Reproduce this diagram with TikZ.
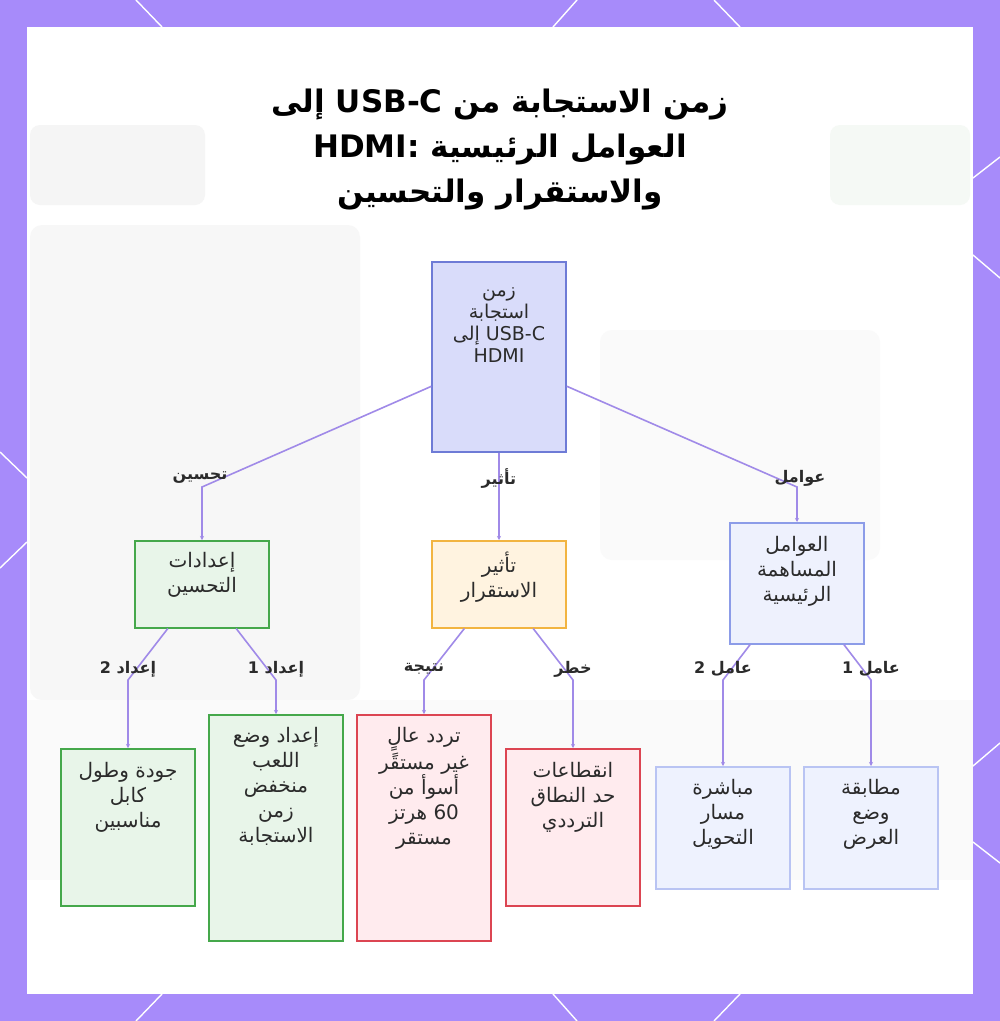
\documentclass[tikz,border=0pt]{standalone}
\usepackage{fontspec}
\setmainfont{DejaVu Sans}
\newfontfamily\arabicfont[Script=Arabic]{DejaVu Sans}
\newfontfamily\latinfont{DejaVu Sans}
\TeXXeTstate=1
\usetikzlibrary{arrows.meta}
\newcommand{\rtl}[1]{\beginR #1\endR}
\newcommand{\ltr}[1]{\beginL{\latinfont #1}\endL{}}

\definecolor{framepurple}{HTML}{A78BFA}
\definecolor{linkpurple}{HTML}{A08AE8}
\definecolor{textdark}{HTML}{2B2B2B}
\definecolor{rootfill}{HTML}{D9DCFA}
\definecolor{rootline}{HTML}{6E7BD6}
\definecolor{greenfill}{HTML}{E8F5E9}
\definecolor{greenline}{HTML}{45A84B}
\definecolor{orangefill}{HTML}{FFF3E0}
\definecolor{orangeline}{HTML}{F2B441}
\definecolor{factfill}{HTML}{EEF1FD}
\definecolor{factline}{HTML}{8C9CE8}
\definecolor{leaffill}{HTML}{EEF2FE}
\definecolor{leafline}{HTML}{B9C4F3}
\definecolor{redfill}{HTML}{FFEBEE}
\definecolor{redline}{HTML}{DC4552}

\tikzset{
  box/.style={draw, line width=1.5pt, anchor=north, minimum width=134pt, inner sep=0pt},
  rootbox/.style={box, fill=rootfill, draw=rootline},
  greenbox/.style={box, fill=greenfill, draw=greenline},
  orangebox/.style={box, fill=orangefill, draw=orangeline},
  factbox/.style={box, fill=factfill, draw=factline},
  leafbox/.style={box, fill=leaffill, draw=leafline},
  redbox/.style={box, fill=redfill, draw=redline},
  boxtext/.style={anchor=north, align=center, inner sep=0pt, text=textdark,
    font=\arabicfont\fontsize{20}{25}\selectfont},
  edgelabel/.style={inner sep=1pt, text=textdark,
    font=\arabicfont\bfseries\fontsize{16}{18}\selectfont},
  link/.style={draw=linkpurple, line width=1.6pt, -{Stealth[length=4pt,width=4pt]}},
  cornerline/.style={draw=white, line width=1.4pt},
}

\begin{document}
\begin{tikzpicture}[x=1pt,y=-1pt]
  \useasboundingbox (0,0) rectangle (1000,1021);

  % frame and panel
  \fill[framepurple] (0,0) rectangle (1000,1021);
  \fill[white] (27,27) rectangle (973,994);
  \fill[black!3, rounded corners=12pt] (30,225) rectangle (360,700);
  \fill[black!2, rounded corners=12pt] (600,330) rectangle (880,560);
  \fill[black!4, rounded corners=10pt] (30,125) rectangle (205,205);
  \fill[green!40!black!4, rounded corners=10pt] (830,125) rectangle (970,205);
  \fill[black!2] (27,700) rectangle (973,880);

  \draw[cornerline] (136,0) -- (162,27);
  \draw[cornerline] (577,0) -- (553,27);
  \draw[cornerline] (714,0) -- (740,27);
  \draw[cornerline] (162,994) -- (136,1021);
  \draw[cornerline] (553,994) -- (577,1021);
  \draw[cornerline] (740,994) -- (714,1021);
  \draw[cornerline] (0,452) -- (27,478);
  \draw[cornerline] (27,542) -- (0,568);
  \draw[cornerline] (973,178) -- (1000,157);
  \draw[cornerline] (973,255) -- (1000,278);
  \draw[cornerline] (973,766) -- (1000,743);
  \draw[cornerline] (973,842) -- (1000,863);

  % title
  \node[align=center, text=black, font=\arabicfont\bfseries\fontsize{31}{45}\selectfont] (title) at (500,150)
    {\rtl{زمن الاستجابة من \ltr{\bfseries USB-C} إلى}\\\rtl{العوامل الرئيسية \ltr{\bfseries HDMI:}}\\\rtl{والاستقرار والتحسين}};

  % boxes
  \node[rootbox, minimum height=190pt] (root) at (499,261) {};
  \node[boxtext, font=\arabicfont\fontsize{19}{22}\selectfont] (roott) at ([yshift=-26pt]root.north)
    {\rtl{زمن}\\\rtl{استجابة}\\\rtl{\ltr{USB-C} إلى}\\\ltr{HDMI}};

  \node[greenbox, minimum height=87pt] (setup) at (202,540) {};
  \node[boxtext] (setupt) at ([yshift=-12pt]setup.north) {\rtl{إعدادات}\\\rtl{التحسين}};

  \node[orangebox, minimum height=87pt] (stab) at (499,540) {};
  \node[boxtext] (stabt) at ([yshift=-12pt]stab.north) {\rtl{تأثير}\\\rtl{الاستقرار}};

  \node[factbox, minimum height=121pt] (factors) at (797,522) {};
  \node[boxtext] (factorst) at ([yshift=-14pt]factors.north) {\rtl{العوامل}\\\rtl{المساهمة}\\\rtl{الرئيسية}};

  \node[greenbox, minimum height=157pt] (cable) at (128,748) {};
  \node[boxtext] (cablet) at ([yshift=-14pt]cable.north) {\rtl{جودة وطول}\\\rtl{كابل}\\\rtl{مناسبين}};

  \node[greenbox, minimum height=226pt] (gamemode) at (276,714) {};
  \node[boxtext] (gamemodet) at ([yshift=-13pt]gamemode.north) {\rtl{إعداد وضع}\\\rtl{اللعب}\\\rtl{منخفض}\\\rtl{زمن}\\\rtl{الاستجابة}};

  \node[redbox, minimum height=226pt] (highhz) at (424,714) {};
  \node[boxtext] (highhzt) at ([yshift=-13pt]highhz.north) {\rtl{تردد عالٍ}\\\rtl{غير مستقًر}\\\rtl{أسوأ من}\\\rtl{\ltr{60} هرتز}\\\rtl{مستقر}};

  \node[redbox, minimum height=157pt] (bandwidth) at (573,748) {};
  \node[boxtext] (bandwidtht) at ([yshift=-14pt]bandwidth.north) {\rtl{انقطاعات}\\\rtl{حد النطاق}\\\rtl{الترددي}};

  \node[leafbox, minimum height=122pt] (pathdirect) at (723,766) {};
  \node[boxtext] (pathdirectt) at ([yshift=-13pt]pathdirect.north) {\rtl{مباشرة}\\\rtl{مسار}\\\rtl{التحويل}};

  \node[leafbox, minimum height=122pt] (modematch) at (871,766) {};
  \node[boxtext] (modematcht) at ([yshift=-13pt]modematch.north) {\rtl{مطابقة}\\\rtl{وضع}\\\rtl{العرض}};

  % bends
  \coordinate (bsetup) at (202,487);
  \coordinate (bfact) at (797,487);
  \coordinate (bcable) at (128,680);
  \coordinate (bgame) at (276,680);
  \coordinate (bhz) at (424,680);
  \coordinate (bband) at (573,680);
  \coordinate (bpath) at (723,680);
  \coordinate (bmode) at (871,680);

  % connectors
  \draw[link] (root) -- (bsetup) -- (setup.north);
  \draw[link] (root) -- (stab);
  \draw[link] (root) -- (bfact) -- (factors.north);
  \draw[link] (setup) -- (bcable) -- (cable.north);
  \draw[link] (setup) -- (bgame) -- (gamemode.north);
  \draw[link] (stab) -- (bhz) -- (highhz.north);
  \draw[link] (stab) -- (bband) -- (bandwidth.north);
  \draw[link] (factors) -- (bpath) -- (pathdirect.north);
  \draw[link] (factors) -- (bmode) -- (modematch.north);

  % edge labels
  \node[edgelabel] (lsetup) at (200,478) {\rtl{تحسين}};
  \node[edgelabel] (lstab) at (499,478) {\rtl{تأثير}};
  \node[edgelabel] (lfact) at (800,478) {\rtl{عوامل}};
  \node[edgelabel] (lcable) at (128,669) {\rtl{إعداد \ltr{\bfseries 2}}};
  \node[edgelabel] (lgame) at (276,669) {\rtl{إعداد \ltr{\bfseries 1}}};
  \node[edgelabel] (lhz) at (424,669) {\rtl{نتيجة}};
  \node[edgelabel] (lband) at (573,669) {\rtl{خطر}};
  \node[edgelabel] (lpath) at (723,669) {\rtl{عامل \ltr{\bfseries 2}}};
  \node[edgelabel] (lmode) at (871,669) {\rtl{عامل \ltr{\bfseries 1}}};
\end{tikzpicture}
\end{document}
